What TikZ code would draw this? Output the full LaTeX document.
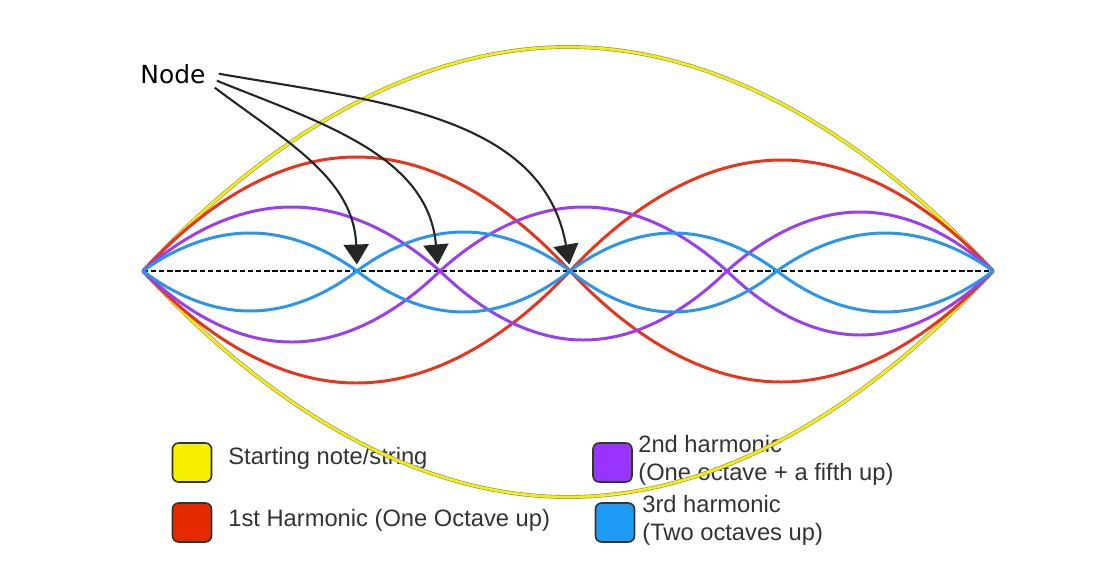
\documentclass[tikz,border=0pt]{standalone}
\usepackage{fontspec}
\setmainfont{Liberation Sans}
\newfontfamily\handfont{DejaVu Sans}
\usetikzlibrary{arrows.meta,positioning,calc}
\definecolor{yelc}{HTML}{F6EF00}
\definecolor{redc}{HTML}{E8341C}
\definecolor{purc}{HTML}{9A3EF2}
\definecolor{bluc}{HTML}{2A95EA}
\definecolor{boxred}{HTML}{E52A00}
\definecolor{boxpur}{HTML}{9933FF}
\definecolor{boxblu}{HTML}{1D9BF5}
\definecolor{txtc}{HTML}{333333}
\tikzset{
  wave/.style={line width=1.7pt, line cap=round},
  yelw/.style={draw=black!45, double=yelc, double distance=1.5pt, line width=0.35pt},
  keybox/.style={draw=txtc, line width=0.9pt, rounded corners=3.5pt, minimum size=0.78cm, inner sep=0pt},
  lbl/.style={text=txtc, font=\fontsize{13.5}{15.9}\selectfont, inner sep=0pt, align=left},
  ptr/.style={-{Triangle[length=0.4cm, width=0.5cm]}, line width=1.2pt, draw=black!85, shorten >=2pt},
}
\begin{document}
\begin{tikzpicture}[x=0.02cm, y=-0.02cm]
  \useasboundingbox (0,0) rectangle (1098,582);
  % legend
  \node[keybox, fill=yelc] (kyel) at (192,462.5) {};
  \node[keybox, fill=boxred] (kred) at (192,522.5) {};
  \node[keybox, fill=boxpur] (kpur) at (612.5,462.5) {};
  \node[keybox, fill=boxblu] (kblu) at (615,522.5) {};
  \node[lbl, anchor=base west] (tyel) at (228,464) {Starting note/string};
  \node[lbl, anchor=base west] (tred) at (228,526) {1st Harmonic (One Octave up)};
  \node[lbl, anchor=north west] (tpur) at (638,435) {2nd harmonic\\(One octave + a fifth up)};
  \node[lbl, anchor=north west] (tblu) at (642,495) {3rd harmonic\\(Two octaves up)};

  % string
  \draw[black, line width=1pt, dash pattern=on 3pt off 1.6pt] (143,271) -- (993,271);
  % starting note
  \draw[yelw] (143,271) parabola bend (568,47) (993,271)
              (143,271) parabola bend (568,497) (993,271);
  % 1st harmonic
  \foreach \a/\b/\t/\d in {143/570/157/383, 570/993/160/382}
    \draw[wave, redc] (\a,271) parabola bend ({(\a+\b)/2},\t) (\b,271)
                      (\a,271) parabola bend ({(\a+\b)/2},\d) (\b,271);
  % 2nd harmonic
  \foreach \a/\b/\t/\d in {143/440/207/342, 440/727/207/340, 727/993/212/335}
    \draw[wave, purc] (\a,271) parabola bend ({(\a+\b)/2},\t) (\b,271)
                      (\a,271) parabola bend ({(\a+\b)/2},\d) (\b,271);
  % 3rd harmonic
  \foreach \a/\b/\t/\d in {143/357/233/311, 357/570/232/312, 570/777/233/312, 777/993/233/312}
    \draw[wave, bluc] (\a,271) parabola bend ({(\a+\b)/2},\t) (\b,271)
                      (\a,271) parabola bend ({(\a+\b)/2},\d) (\b,271);

  % nodes of the string
  \coordinate (nb1) at (357,268);
  \coordinate (np1) at (438,268);
  \coordinate (nr1) at (570,268);
  \node[font=\handfont\fontsize{14.2}{16}\selectfont, inner sep=0pt, anchor=base west] (nodelbl) at (140,83) {Node};
  \draw[ptr] ($(nodelbl.east)+(9,14)$) to[out=-37, in=92] (nb1);
  \draw[ptr] ($(nodelbl.east)+(11,7)$) to[out=-22, in=95] (np1);
  \draw[ptr] ($(nodelbl.east)+(13,0)$) to[out=-10, in=100] (nr1);
\end{tikzpicture}
\end{document}
